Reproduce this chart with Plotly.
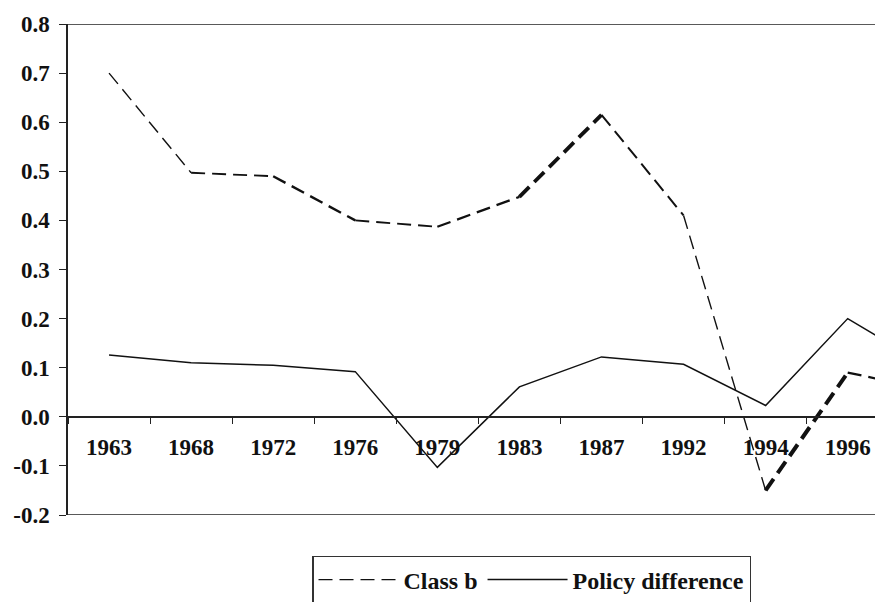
import plotly.graph_objects as go

# ---- data ----
years = ["1963", "1968", "1972", "1976", "1979", "1983", "1987", "1992", "1994", "1996", "1998"]
class_b = [0.70, 0.497, 0.490, 0.400, 0.387, 0.448, 0.615, 0.410, -0.150, 0.090, 0.055]
policy_diff = [0.126, 0.110, 0.105, 0.092, -0.103, 0.061, 0.122, 0.107, 0.023, 0.200, 0.100]
y_tick_vals = [-0.2, -0.1, 0.0, 0.1, 0.2, 0.3, 0.4, 0.5, 0.6, 0.7, 0.8]
y_tick_text = ["-0.2", "-0.1", "0.0", "0.1", "0.2", "0.3", "0.4", "0.5", "0.6", "0.7", "0.8"]

# ---- style (scanned look: dashed segments vary in thickness) ----
dash_widths = [1.4, 1.8, 2.4, 1.9, 2.3, 3.8, 2.0, 1.4, 4.0, 2.3]
FONT = "Liberation Serif, Times New Roman, serif"
INK = "#111111"

fig = go.Figure()

for i in range(len(years) - 1):
    fig.add_trace(go.Scatter(
        x=years[i:i + 2], y=class_b[i:i + 2], mode="lines",
        name="Class b", legendgroup="b", showlegend=(i == 0),
        line=dict(color=INK, width=dash_widths[i], dash="14px,7px"),
        hoverinfo="skip"))

fig.add_trace(go.Scatter(
    x=years, y=policy_diff, mode="lines", name="Policy difference",
    line=dict(color=INK, width=1.5)))

fig.add_shape(type="line", xref="paper", yref="y", x0=0, x1=1, y0=0.8, y1=0.8,
              line=dict(color="#222", width=1.5))
fig.add_shape(type="line", xref="paper", yref="y", x0=0, x1=1, y0=-0.2, y1=-0.2,
              line=dict(color="#222", width=1.5))

fig.update_layout(
    width=875, height=594, autosize=False,
    margin=dict(l=60, r=0, t=16, b=87, pad=0, autoexpand=False),
    paper_bgcolor="white", plot_bgcolor="white",
    font=dict(family=FONT, color=INK),
    xaxis=dict(
        type="category", range=[-0.5, 9.43],
        anchor="free", position=0.2, automargin=False,
        showline=True, linecolor="#222", linewidth=1.5,
        ticks="outside", ticklen=6, tickwidth=1.3, tickcolor="#222",
        tickson="boundaries", showgrid=False, zeroline=False,
        tickfont=dict(family=FONT, size=23, weight="bold", color=INK),
        ticklabelstandoff=10,
    ),
    yaxis=dict(
        range=[-0.2, 0.8], tickvals=y_tick_vals, ticktext=y_tick_text,
        automargin=False,
        showline=True, linecolor="#222", linewidth=1.5,
        ticks="outside", ticklen=7, tickwidth=1.3, tickcolor="#222",
        showgrid=False, zeroline=False,
        tickfont=dict(family=FONT, size=23, weight="bold", color=INK),
        ticklabelstandoff=5,
    ),
    legend=dict(
        orientation="h", x=0.2994, xanchor="left", y=-0.0835, yanchor="top",
        bordercolor="#333", borderwidth=1.5, bgcolor="white",
        font=dict(family=FONT, size=24, weight="bold", color=INK),
        itemwidth=80, traceorder="normal",
    ),
    showlegend=True,
)

fig.write_html("out.html")
